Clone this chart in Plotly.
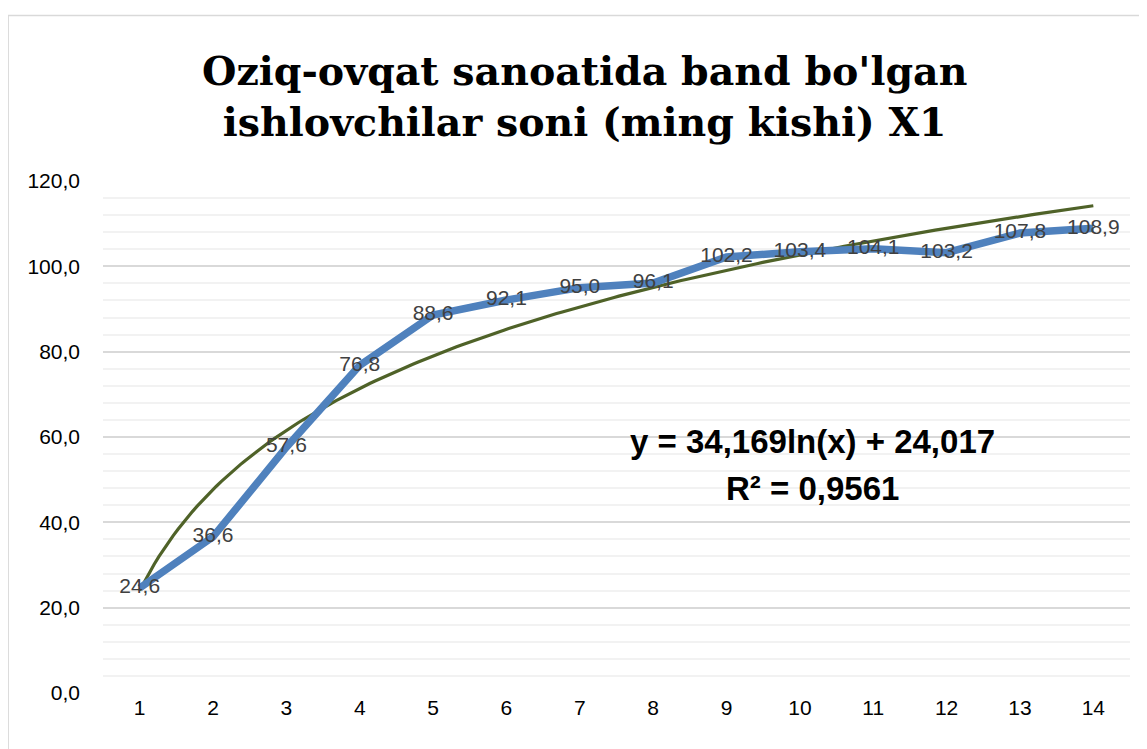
import numpy as np
import plotly.graph_objects as go

# data
periods = list(range(1, 15))
workers = [24.6, 36.6, 57.6, 76.8, 88.6, 92.1, 95.0, 96.1, 102.2, 103.4, 104.1, 103.2, 107.8, 108.9]
labels = [f"{v:.1f}".replace(".", ",") for v in workers]

# logarithmic trend line shown on the chart
trend_a = 34.169
trend_b = 24.017
trend_text = "y = 34,169ln(x) + 24,017"
r2_text = "R² = 0,9561"

title_text = "Oziq-ovqat sanoatida band bo'lgan<br>ishlovchilar soni (ming kishi) X1"

# page body has an 8px margin, so the figure starts at (8, 8) on screen
OFF = 8
W, H = 1147, 749
plot_left, plot_right, plot_top, plot_bottom = 103.3, 1129.7, 181, 693
L = plot_left - OFF
R = W - (plot_right - OFF)
T = plot_top - OFF
B = H - (plot_bottom - OFF)
pw, ph = plot_right - plot_left, plot_bottom - plot_top


def px(x):
    return (x - plot_left) / pw


def py(y):
    return (plot_bottom - y) / ph


trend_x = np.linspace(periods[0], periods[-1], 200)
trend_y = trend_a * np.log(trend_x) + trend_b

fig = go.Figure()

fig.add_trace(go.Scatter(
    x=trend_x, y=trend_y, mode='lines',
    line=dict(color='#4F6228', width=3.2), hoverinfo='skip'
))

fig.add_trace(go.Scatter(
    x=periods, y=workers, mode='lines+text',
    line=dict(color='#4F81BD', width=7.5),
    text=labels, textposition='middle center',
    textfont=dict(family='Liberation Sans', size=21, color='#404040')
))

fig.add_annotation(
    text="<b>" + title_text + "</b>", xref='paper', yref='paper', x=px(585), y=py(96),
    showarrow=False, xanchor='center', yanchor='middle',
    font=dict(family='DejaVu Serif', size=39.5, color='black')
)
fig.add_annotation(
    text="<b>" + trend_text + "</b>", xref='paper', yref='paper', x=px(812), y=py(441),
    showarrow=False, xanchor='center', yanchor='middle',
    font=dict(family='Liberation Sans', size=33, color='black')
)
fig.add_annotation(
    text="<b>" + r2_text + "</b>", xref='paper', yref='paper', x=px(812), y=py(488),
    showarrow=False, xanchor='center', yanchor='middle',
    font=dict(family='Liberation Sans', size=33, color='black')
)

# outer chart border (only left and top visible)
fig.add_shape(type='rect', xref='paper', yref='paper',
              x0=px(8.5), x1=px(1170), y0=py(780), y1=py(15.5),
              line=dict(color='#D9D9D9', width=1.5), layer='below')

fig.update_layout(
    width=W, height=H,
    margin=dict(l=L, r=R, t=T, b=B),
    paper_bgcolor='white', plot_bgcolor='white',
    showlegend=False,
    separators=', ',
    font=dict(family='Liberation Sans', size=21, color='black'),
    xaxis=dict(
        range=[0.5, 14.5], tickmode='array', tickvals=periods,
        showgrid=False, zeroline=False, showline=False, ticks='',
        tickfont=dict(size=21, color='black'),
    ),
    yaxis=dict(
        range=[0, 120], dtick=20, tickformat='.1f',
        showgrid=True, gridcolor='#D9D9D9', gridwidth=1.5,
        minor=dict(dtick=4, showgrid=True, gridcolor='#F2F2F2', gridwidth=1.5),
        zeroline=False, showline=False, ticks='',
        ticklabelstandoff=22,
        tickfont=dict(size=21, color='black'),
    ),
)

fig.write_html("out.html")
